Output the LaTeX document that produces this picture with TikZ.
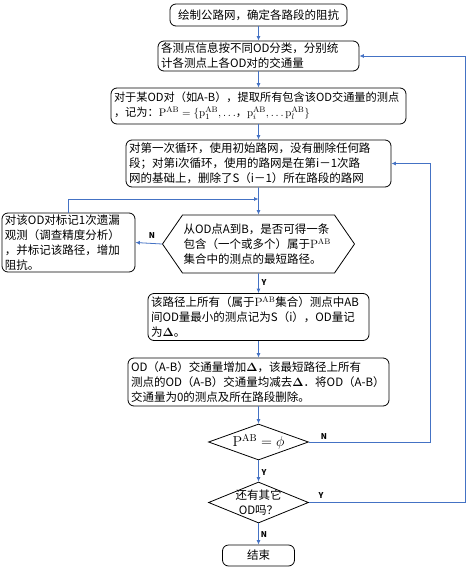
\documentclass[tikz,border=0pt]{standalone}
\usepackage[no-math]{fontspec}
\setmainfont{Noto Sans CJK SC}
\usetikzlibrary{shapes.geometric,shapes.symbols,arrows.meta}
\definecolor{linkblue}{RGB}{68,114,196}

\tikzstyle{every node}=[font=\fontsize{11.5pt}{15pt}\selectfont]
\tikzstyle{proc}=[draw, rounded corners=6pt, line width=0.8pt, align=left, inner xsep=3pt, inner ysep=1pt]
\tikzstyle{decision}=[draw, diamond, line width=0.8pt, inner sep=0pt]
\tikzstyle{judge}=[draw, signal, signal to=west and east, signal pointer angle=110.8, line width=0.8pt, align=left, inner xsep=1pt, inner ysep=1pt]
\tikzstyle{link}=[draw=linkblue, line width=0.8pt, -{Latex[length=4.5pt,width=4pt]}]
\tikzstyle{yn}=[font=\fontsize{8pt}{8pt}\bfseries\selectfont, inner sep=0pt]

\begin{document}
\begin{tikzpicture}[x=1pt,y=-1pt]
	\useasboundingbox (0,0) rectangle (468,568);

	% Kroky
	\node[proc, align=center, minimum width=177pt, minimum height=22pt] (start) at (258.5,15) {绘制公路网，确定各路段的阻抗};
	\node[proc, text width=195pt, minimum height=30pt] (split) at (258.5,56) {各测点信息按不同OD分类，分别统\\计各测点上各OD对的交通量};
	\node[proc, text width=289pt, minimum height=36pt, font=\fontsize{11.2pt}{15pt}\selectfont] (extract) at (258.5,106) {\mbox{对于某OD对（如A-B），提取所有包含该OD交通量的测点}\\，记为：$\mathrm{P}^{\mathrm{AB}}=\{\mathrm{p}_1^{\mathrm{AB}},\ldots$，$\mathrm{p}_i^{\mathrm{AB}},\ldots\mathrm{p}_l^{\mathrm{AB}}\}$};
	\node[proc, text width=259pt, minimum height=47pt] (net) at (258.5,163.5) {对第一次循环，使用初始路网，没有删除任何路\\段；对第i次循环，使用的路网是在第i－1次路\\网的基础上，删除了S（i－1）所在路段的路网};
	\node[judge, text width=150pt, minimum height=58pt] (path) at (258.5,244) {从OD点A到B，是否可得一条\\包含（一个或多个）属于$\mathrm{P}^{\mathrm{AB}}$\\集合中的测点的最短路径。};
	\node[proc, text width=127pt, minimum height=59pt] (miss) at (68.5,242.5) {对该OD对标记1次遗漏\\观测（调查精度分析）\\，并标记该路径，增加\\阻抗。};
	\node[proc, text width=215pt, minimum height=47pt] (mark) at (258.5,317) {该路径上所有（属于$\mathrm{P}^{\mathrm{AB}}$集合）测点中AB\\间OD量最小的测点记为S（i），OD量记\\为$\mathbf{\Delta}$。};
	\node[proc, text width=255pt, minimum height=48pt] (update) at (258.5,382) {OD（A-B）交通量增加$\mathbf{\Delta}$，该最短路径上所有\\\mbox{测点的OD（A-B）交通量均减去$\mathbf{\Delta}$．将OD（A-B）}\\交通量为0的测点及所在路段删除。};

	% Rozhodnutí
	\node[decision, minimum width=100pt, minimum height=36pt] (empty) at (258.5,442) {};
	\node (emptyt) at (empty) {\fontsize{14pt}{15pt}\selectfont$\mathrm{P}^{\mathrm{AB}}=\phi$};
	\node[decision, minimum width=100pt, minimum height=41pt] (more) at (258.5,502.5) {};
	\node[align=center] (moret) at (more) {还有其它\\OD吗？};
	\node[proc, align=center, minimum width=72pt, minimum height=21pt] (stop) at (258.5,555.5) {结束};

	% Spojnice
	\coordinate (join) at (258.5,199);
	\draw[link] (start) -- (split);
	\draw[link] (split) -- (extract);
	\draw[link] (extract) -- (net);
	\draw[link] (net) -- (path);
	\draw[link] (path) -- (mark);
	\draw[link] (mark) -- (update);
	\draw[link] (update) -- (empty);
	\draw[link] (empty) -- (more);
	\draw[link] (more) -- (stop);
	\draw[link] (path.west) -- (miss.east);
	\draw[link] (miss.north) |- (join);
	\draw[link] (empty.east) -- ++(121.5,0) |- (net.east);
	\draw[link] (more.east) -- ++(156.5,0) |- (split.east);

	% Popisky
	\node[yn] (pathno) at (152,236) {N};
	\node[yn] (pathyes) at (264,283) {Y};
	\node[yn] (emptyno) at (324,437) {N};
	\node[yn] (emptyyes) at (264,473) {Y};
	\node[yn] (moreyes) at (321,496) {Y};
	\node[yn] (moreno) at (264,535) {N};
\end{tikzpicture}
\end{document}
